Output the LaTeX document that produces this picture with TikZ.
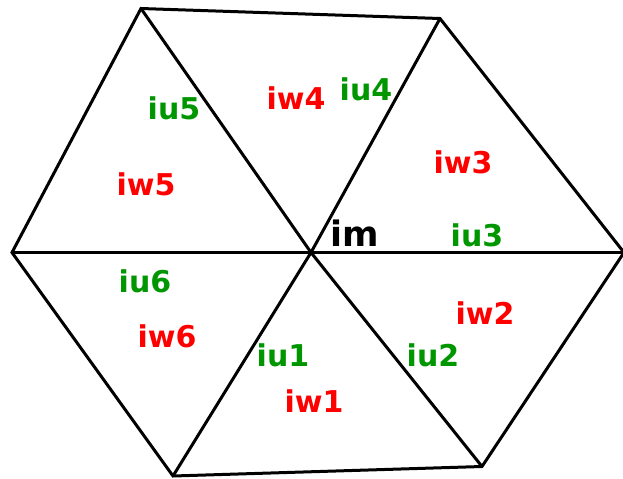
\documentclass[tikz,border=0pt]{standalone}
\usepackage{fontspec}
\setmainfont{DejaVu Sans}
\usepackage{tikz}
\usetikzlibrary{calc,positioning}
\definecolor{ugreen}{RGB}{0,150,0}
\tikzset{
  edge/.style={line width=1.5pt,line join=miter},
  ulab/.style={text=ugreen,font=\fontsize{15}{18}\selectfont\bfseries,inner sep=0pt},
  wlab/.style={text=red,font=\fontsize{15}{18}\selectfont\bfseries,inner sep=0pt},
  mlab/.style={text=black,font=\fontsize{17.5}{20}\selectfont\bfseries,inner sep=0pt}
}
\begin{document}
\begin{tikzpicture}[x=0.5pt,y=-0.5pt]
      \useasboundingbox (0,0) rectangle (623,478);
      % Sommets
      \coordinate (im) at (311,252.5);
      \coordinate (tl) at (141,8.5);
      \coordinate (tr) at (440,18.5);
      \coordinate (r) at (624,252.5);
      \coordinate (br) at (482,466.5);
      \coordinate (bl) at (173,476);
      \coordinate (l) at (12,252.5);

      % Contour
      \draw[edge] (l) -- (tl) -- (tr) -- (r) -- (br) -- (bl) -- cycle;

      % Rayons
      \draw[edge] (l) -- (r);
      \draw[edge] (tl) -- (im) -- (br);
      \draw[edge] (tr) -- (im) -- (bl);

      % Noeud central
      \node[mlab] (lm) at (355,233) {im};

      % Triangles du haut
      \node[ulab] (u5) at (174,108) {iu5};
      \node[wlab] (w5) at (146,184) {iw5};
      \node[wlab] (w4) at (296,98) {iw4};
      \node[ulab] (u4) at (366,89) {iu4};
      \node[wlab] (w3) at (463,162) {iw3};
      \node[ulab] (u3) at (477,235) {iu3};

      % Triangles du bas
      \node[ulab] (u6) at (145,281) {iu6};
      \node[wlab] (w6) at (167,336) {iw6};
      \node[ulab] (u1) at (283,355) {iu1};
      \node[wlab] (w1) at (314,401) {iw1};
      \node[ulab] (u2) at (433,355) {iu2};
      \node[wlab] (w2) at (485,313) {iw2};
\end{tikzpicture}
\end{document}
